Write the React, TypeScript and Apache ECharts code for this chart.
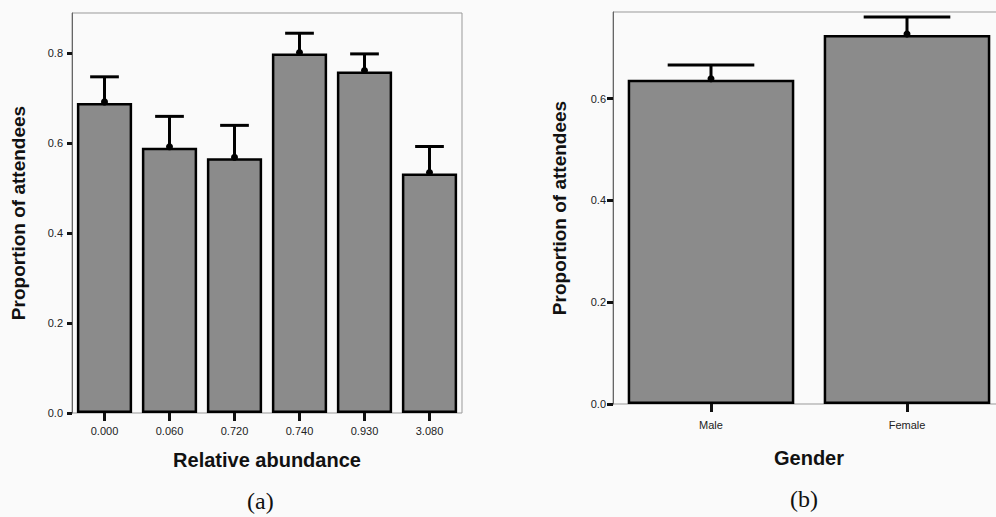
import React, { useEffect, useRef } from "react";
import * as echarts from "echarts";

const categoriesA = ["0.000", "0.060", "0.720", "0.740", "0.930", "3.080"];
const meansA = [0.69, 0.59, 0.567, 0.8, 0.76, 0.533];
const upperA = [0.748, 0.66, 0.64, 0.845, 0.799, 0.593];
const ticksA = [0, 0.2, 0.4, 0.6, 0.8];

const categoriesB = ["Male", "Female"];
const meansB = [0.637, 0.725];
const upperB = [0.666, 0.76];
const ticksB = [0, 0.2, 0.4, 0.6];

const FONT = "'Liberation Sans', Arial, Helvetica, sans-serif";
const BAR_FILL = "#8b8b8b";

function errorRender(params: any, api: any) {
  const x = api.value(0);
  const mean = api.value(1);
  const up = api.value(2);
  const pMean = api.coord([x, mean]);
  const pUp = api.coord([x, up]);
  const band = api.size([1, 0])[0];
  const cap = band * 0.85 * 0.52;
  const style = { stroke: "#000", lineWidth: 3 };
  return {
    type: "group",
    children: [
      { type: "line", shape: { x1: pMean[0], y1: pMean[1], x2: pUp[0], y2: pUp[1] }, style },
      { type: "line", shape: { x1: pUp[0] - cap / 2, y1: pUp[1], x2: pUp[0] + cap / 2, y2: pUp[1] }, style },
      { type: "circle", shape: { cx: pMean[0], cy: pMean[1] - 1, r: 3.5 }, style: { fill: "#000" } },
    ],
  };
}

function yAxisFor(gridIndex: number, max: number, ticks: number[], gap: number, tickLen: number, margin: number) {
  return {
    type: "value",
    gridIndex,
    min: 0,
    max,
    interval: 0.2,
    name: "Proportion of attendees",
    nameLocation: "middle",
    nameGap: gap,
    nameRotate: 90,
    nameTextStyle: { fontFamily: FONT, fontSize: 19, fontWeight: "bold", color: "#111" },
    axisLine: { show: true, lineStyle: { color: "#666", width: 1 } },
    axisTick: { show: true, length: tickLen, lineStyle: { color: "#111", width: 3 }, customValues: ticks },
    axisLabel: {
      show: true,
      customValues: ticks,
      margin,
      fontFamily: FONT,
      fontSize: 11,
      color: "#222",
      formatter: (v: number) => v.toFixed(1),
    },
    splitLine: { show: false },
  };
}

function xAxisFor(gridIndex: number, cats: string[], name: string, gap: number, margin: number) {
  return {
    type: "category",
    gridIndex,
    data: cats,
    name,
    nameLocation: "middle",
    nameGap: gap,
    nameTextStyle: { fontFamily: FONT, fontSize: 20, fontWeight: "bold", color: "#111" },
    axisLine: { show: false },
    axisTick: { show: true, alignWithLabel: true, length: 8, lineStyle: { color: "#111", width: 3 } },
    axisLabel: { margin, fontFamily: FONT, fontSize: 11, color: "#222" },
    splitLine: { show: false },
  };
}

export default function App() {
  const ref = useRef<HTMLDivElement>(null);
  useEffect(() => {
    if (!ref.current) return;
    const chart = echarts.init(ref.current, null, { renderer: "svg" });
    const barStyle = { color: BAR_FILL, borderColor: "#000", borderWidth: 2.5 };
    chart.setOption({
      animation: false,
      backgroundColor: "#fafafa",
      grid: [
        { left: 72, top: 13, width: 390, height: 400, show: true, borderColor: "#999", borderWidth: 1, backgroundColor: "transparent" },
        { left: 613, top: 12, width: 392, height: 392, show: true, borderColor: "#999", borderWidth: 1, backgroundColor: "transparent" },
      ],
      xAxis: [xAxisFor(0, categoriesA, "Relative abundance", 37, 12), xAxisFor(1, categoriesB, "Gender", 44, 15)],
      yAxis: [yAxisFor(0, 0.89, ticksA, 44, 5, 9), yAxisFor(1, 0.77, ticksB, 44, 6, 7)],
      series: [
        {
          type: "bar",
          xAxisIndex: 0,
          yAxisIndex: 0,
          data: meansA,
          barCategoryGap: "15%",
          itemStyle: barStyle,
        },
        {
          type: "custom",
          xAxisIndex: 0,
          yAxisIndex: 0,
          renderItem: errorRender,
          data: meansA.map((m, i) => [i, m, upperA[i]]),
          z: 5,
        },
        {
          type: "bar",
          xAxisIndex: 1,
          yAxisIndex: 1,
          data: meansB,
          barCategoryGap: "15%",
          itemStyle: barStyle,
        },
        {
          type: "custom",
          xAxisIndex: 1,
          yAxisIndex: 1,
          renderItem: errorRender,
          data: meansB.map((m, i) => [i, m, upperB[i]]),
          z: 5,
        },
      ],
      graphic: [
        {
          type: "text",
          left: 247,
          top: 489,
          style: { text: "(a)", fontFamily: "'Liberation Serif', 'Times New Roman', serif", fontSize: 24, fill: "#111" },
        },
        {
          type: "text",
          left: 790,
          top: 487,
          style: { text: "(b)", fontFamily: "'Liberation Serif', 'Times New Roman', serif", fontSize: 24, fill: "#111" },
        },
      ],
    });
    return () => chart.dispose();
  }, []);
  return (
    <div style={{ position: "fixed", left: 0, top: 0, width: 996, height: 517, overflow: "hidden" }}>
      <div ref={ref} style={{ width: 1012, height: 517 }} />
    </div>
  );
}
